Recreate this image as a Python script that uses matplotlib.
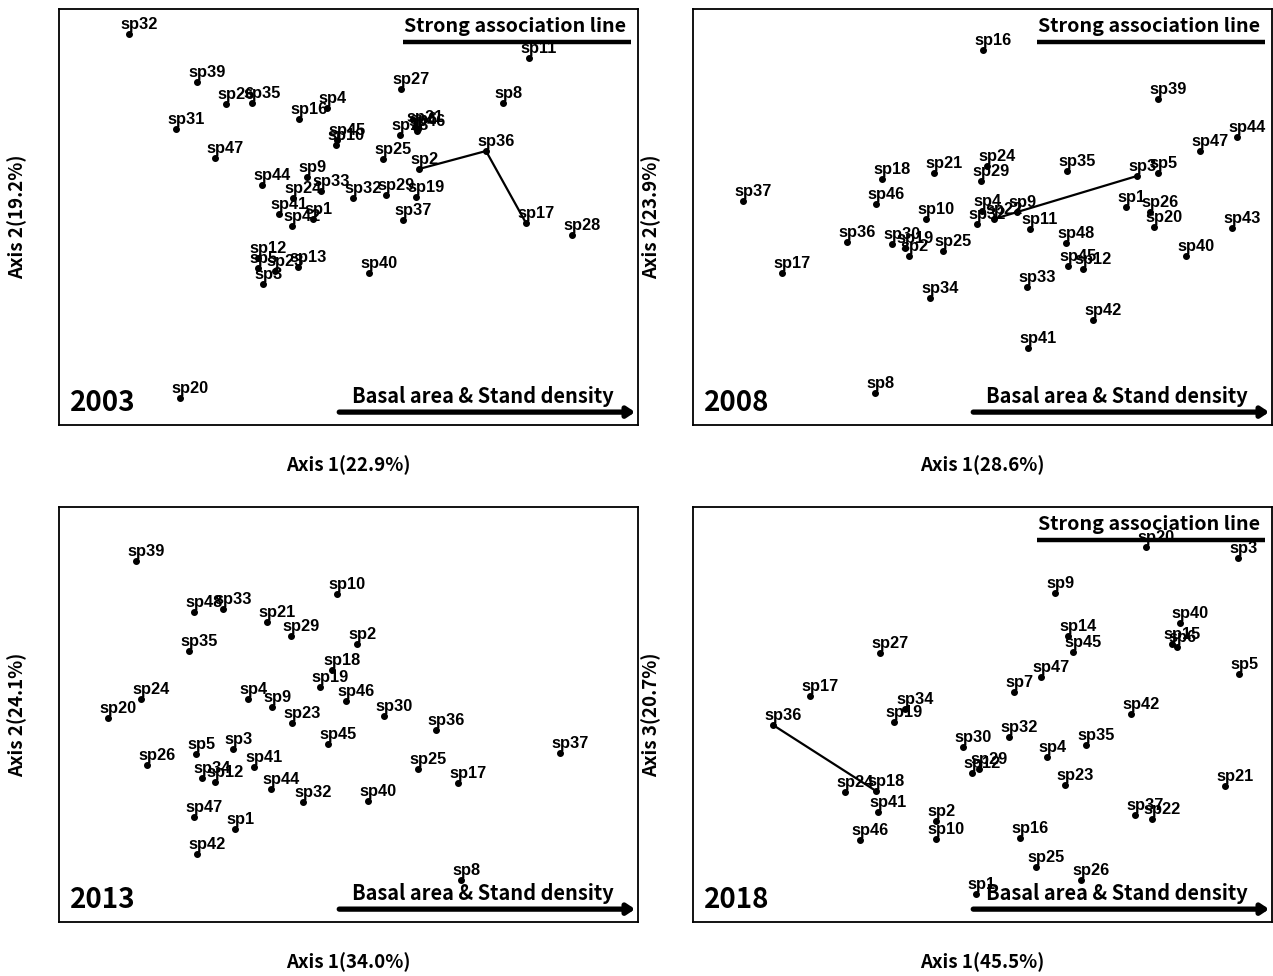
import matplotlib
matplotlib.use("Agg")
import matplotlib.pyplot as plt

# ordination scores (screen units, y grows downward)
names_2003 = ["sp32", "sp39", "sp26", "sp35", "sp31", "sp4", "sp16", "sp27", "sp11", "sp8",
              "sp18", "sp21", "sp46", "sp6", "sp45", "sp10", "sp47", "sp25", "sp2", "sp36",
              "sp17", "sp28", "sp9", "sp33", "sp44", "sp24", "sp32", "sp29", "sp19", "sp37",
              "sp41", "sp42", "sp1", "sp12", "sp5", "sp23", "sp13", "sp3", "sp40", "sp20"]
x_2003 = [129, 197, 226, 252, 176, 327, 299, 401, 529, 503,
          400, 415, 417, 418, 337, 336, 215, 383, 419, 486,
          526, 572, 307, 321, 262, 293, 353, 386, 416, 403,
          279, 292, 313, 258, 258, 275, 298, 263, 369, 180]
y_2003 = [34, 82, 104, 103, 129, 108, 119, 89, 58, 103,
          135, 127, 131, 129, 140, 145, 158, 159, 169, 151,
          223, 235, 177, 191, 185, 198, 198, 195, 197, 220,
          214, 226, 219, 258, 268, 271, 267, 284, 273, 398]
lines_2003 = [("sp2", "sp36"), ("sp36", "sp17")]

names_2008 = ["sp16", "sp39", "sp44", "sp47", "sp37", "sp18", "sp21", "sp24", "sp29", "sp35",
              "sp46", "sp10", "sp4", "sp32", "sp22", "sp9", "sp11", "sp36", "sp30", "sp19",
              "sp2", "sp25", "sp48", "sp45", "sp12", "sp33", "sp34", "sp42", "sp41", "sp8",
              "sp17", "sp3", "sp5", "sp1", "sp26", "sp20", "sp43", "sp40"]
x_2008 = [983, 1158, 1237, 1200, 743, 882, 934, 987, 981, 1067,
          876, 926, 982, 977, 994, 1017, 1030, 847, 892, 905,
          909, 943, 1066, 1068, 1083, 1027, 930, 1093, 1028, 875,
          782, 1137, 1158, 1126, 1150, 1154, 1232, 1186]
y_2008 = [50, 99, 137, 151, 201, 179, 173, 166, 181, 171,
          204, 219, 211, 224, 219, 212, 229, 242, 244, 248,
          256, 251, 243, 266, 269, 287, 298, 320, 348, 393,
          273, 176, 173, 207, 212, 227, 228, 256]
lines_2008 = [("sp22", "sp3")]

names_2013 = ["sp39", "sp48", "sp33", "sp21", "sp10", "sp29", "sp2", "sp35", "sp18", "sp19",
              "sp46", "sp4", "sp9", "sp23", "sp30", "sp36", "sp24", "sp20", "sp26", "sp5",
              "sp3", "sp41", "sp45", "sp34", "sp12", "sp44", "sp32", "sp40", "sp25", "sp17",
              "sp37", "sp47", "sp1", "sp42", "sp8"]
x_2013 = [136, 194, 223, 267, 337, 291, 357, 189, 332, 320,
          346, 248, 272, 292, 384, 436, 141, 108, 147, 196,
          233, 254, 328, 202, 215, 271, 303, 368, 418, 458,
          560, 194, 235, 197, 461]
y_2013 = [561, 612, 609, 622, 594, 636, 644, 651, 670, 687,
          701, 699, 707, 723, 716, 730, 699, 718, 765, 754,
          749, 767, 744, 778, 782, 789, 802, 801, 769, 783,
          753, 817, 829, 854, 880]
lines_2013 = []

names_2018 = ["sp20", "sp3", "sp9", "sp40", "sp14", "sp45", "sp15", "sp6", "sp5", "sp47",
              "sp7", "sp27", "sp17", "sp36", "sp34", "sp19", "sp30", "sp32", "sp4", "sp35",
              "sp42", "sp12", "sp29", "sp23", "sp24", "sp18", "sp41", "sp2", "sp46", "sp10",
              "sp16", "sp37", "sp22", "sp21", "sp25", "sp26", "sp1"]
x_2018 = [1146, 1238, 1055, 1180, 1068, 1073, 1172, 1177, 1239, 1041,
          1014, 880, 810, 773, 905, 894, 963, 1009, 1047, 1086,
          1131, 972, 979, 1065, 845, 876, 878, 936, 860, 936,
          1020, 1135, 1152, 1225, 1036, 1081, 976]
y_2018 = [547, 558, 593, 623, 636, 652, 644, 647, 674, 677,
          692, 653, 696, 725, 709, 722, 747, 737, 757, 745,
          714, 773, 769, 785, 792, 791, 812, 821, 840, 839,
          838, 815, 819, 786, 867, 880, 894]
lines_2018 = [("sp36", "sp18")]

years = ["2003", "2008", "2013", "2018"]
xlabels = ["Axis 1(22.9%)", "Axis 1(28.6%)", "Axis 1(34.0%)", "Axis 1(45.5%)"]
ylabels = ["Axis 2(19.2%)", "Axis 2(23.9%)", "Axis 2(24.1%)", "Axis 3(20.7%)"]
strong_line = [True, True, False, True]

panels = [(names_2003, x_2003, y_2003, lines_2003),
          (names_2008, x_2008, y_2008, lines_2008),
          (names_2013, x_2013, y_2013, lines_2013),
          (names_2018, x_2018, y_2018, lines_2018)]

W, H = 1273, 976
# panel frames in pixels: left, top, right, bottom
frames = [(59, 9, 638, 425), (693, 9, 1272, 425),
          (59, 507, 638, 922), (693, 507, 1272, 922)]

KR = ["Noto Sans CJK KR", "DejaVu Sans"]
LAB = "Liberation Sans"

fig = plt.figure(figsize=(W / 100, H / 100), dpi=100)

for i, (names, xs, ys, links) in enumerate(panels):
    l, t, r, b = frames[i]
    ax = fig.add_axes([l / W, 1 - b / H, (r - l) / W, (b - t) / H])
    ax.set_xlim(l, r)
    ax.set_ylim(b, t)
    ax.set_xticks([])
    ax.set_yticks([])
    for sp in ax.spines.values():
        sp.set_linewidth(1.3)

    for a, c in links:
        ia, ic = names.index(a), names.index(c)
        ax.plot([xs[ia], xs[ic]], [ys[ia], ys[ic]], color="black", lw=1.6, zorder=2)

    ax.scatter(xs, ys, s=16, color="black", zorder=3)
    for n, xv, yv in zip(names, xs, ys):
        ax.annotate(n, (xv, yv), xytext=(-6.5, 3.5), textcoords="offset points",
                    ha="left", va="baseline", fontsize=11.8, fontweight="bold",
                    family=LAB, zorder=4)

    # environmental gradient arrow
    ax.annotate("", xy=(0.995, 0.031), xytext=(0.484, 0.031), xycoords="axes fraction",
                arrowprops=dict(arrowstyle="-|>,head_length=0.45,head_width=0.3",
                                lw=3.8, color="black", shrinkA=0, shrinkB=0))
    ax.text(0.732, 0.068, "Basal area & Stand density", transform=ax.transAxes,
            ha="center", va="center", fontsize=14.4, fontweight="bold", family=KR)

    if strong_line[i]:
        ax.text(0.788, 0.957, "Strong association line", transform=ax.transAxes,
                ha="center", va="center", fontsize=14.2, fontweight="bold", family=KR)
        ax.plot([0.594, 0.988], [0.921, 0.921], transform=ax.transAxes,
                color="black", lw=3.2, solid_capstyle="butt")

    ax.text(0.019, 0.052, years[i], transform=ax.transAxes, ha="left", va="center",
            fontsize=20, fontweight="bold", family=KR)

    ax.text(0.5, -0.097, xlabels[i], transform=ax.transAxes, ha="center", va="center",
            fontsize=13.5, fontweight="bold", family=KR)
    ax.text(-0.072, 0.5, ylabels[i], transform=ax.transAxes, ha="center", va="center",
            rotation=90, fontsize=13.5, fontweight="bold", family=KR)

fig.savefig("out.png", dpi=100)
